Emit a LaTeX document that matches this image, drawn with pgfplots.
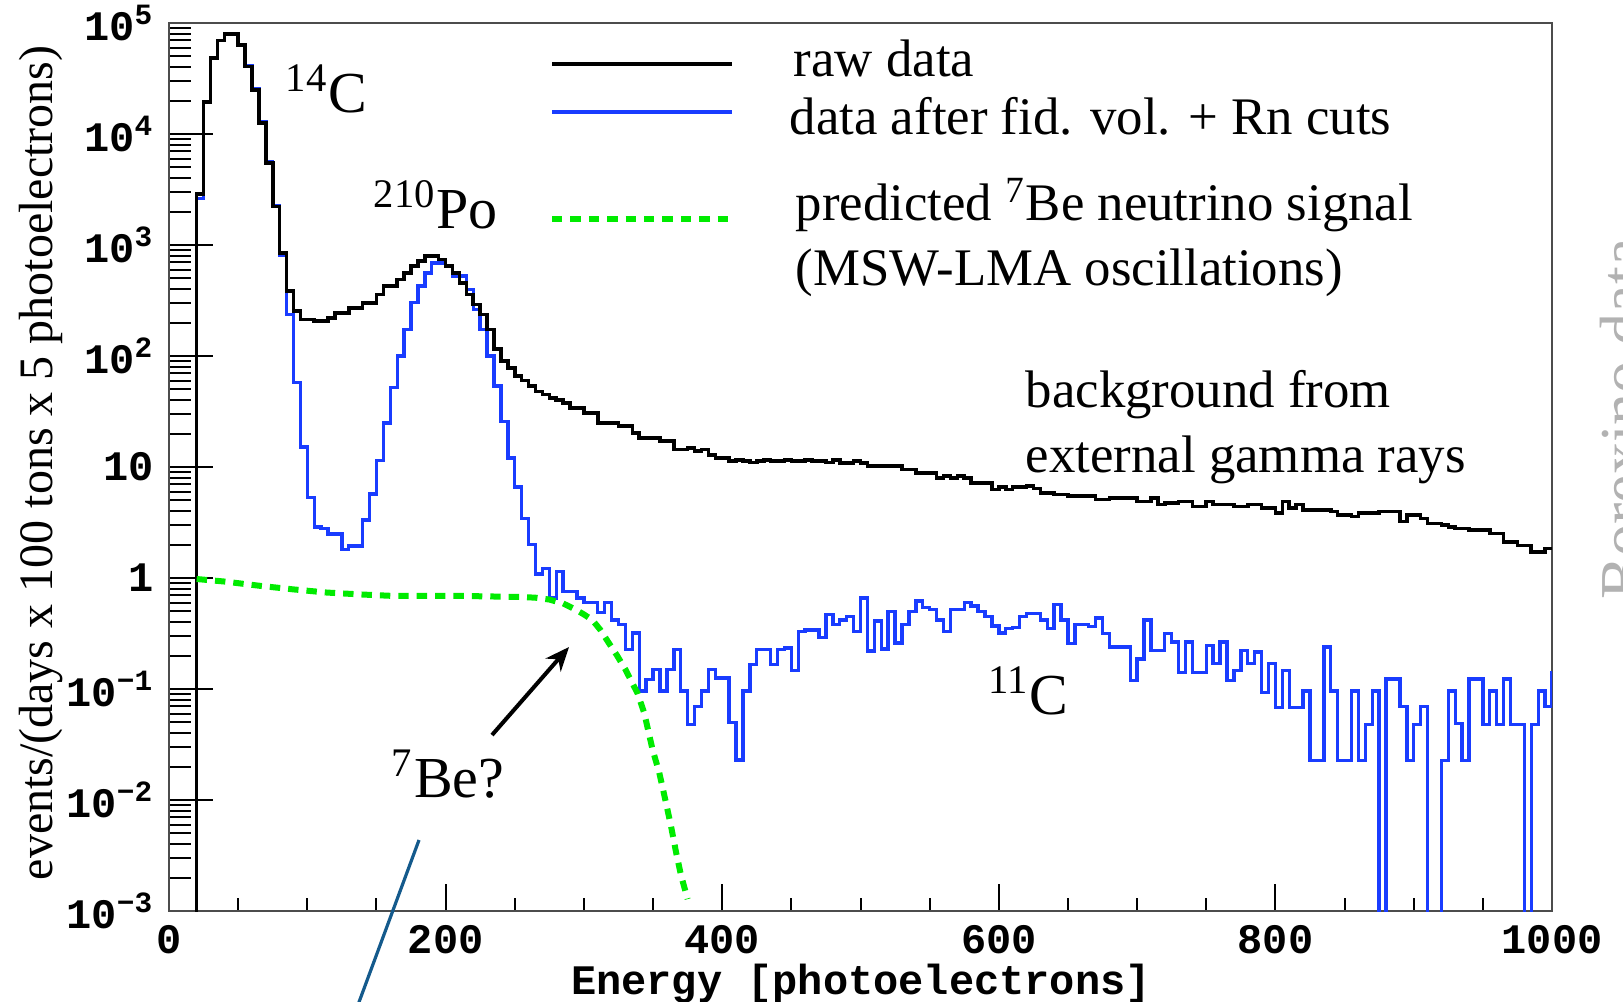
\documentclass[border=0pt]{standalone}
\usepackage{fontspec}
\setmainfont{Liberation Serif}
\newfontfamily\monof{Liberation Mono}
\usepackage{pgfplots}
\pgfplotsset{compat=1.18}
\usetikzlibrary{arrows.meta}
\definecolor{cutblue}{RGB}{25,60,255}
\definecolor{begreen}{RGB}{0,235,0}
\definecolor{strayblue}{RGB}{20,90,140}
\definecolor{wmgray}{RGB}{178,178,178}
\begin{document}
\begin{tikzpicture}
\useasboundingbox (0pt,0pt) rectangle (405.75pt,250.25pt);
\begin{axis}[
  at={(42.25pt,22.5pt)}, anchor=south west, scale only axis,
  width=345.75pt, height=222pt,
  xmin=0, xmax=1000, ymode=log, ymin=1e-3, ymax=1e5,
  axis line style={black!70, line width=0.6pt},
  tick align=inside, tick pos=left,
  tick style={black, line width=0.5pt},
  major tick length=11pt, minor tick length=5.5pt,
  every major x tick/.append style={/pgfplots/major tick length=6.75pt},
  every minor x tick/.append style={/pgfplots/minor tick length=3.25pt},
  xtick={0,200,400,600,800,1000}, minor x tick num=3,
  ytick={1e-3,1e-2,1e-1,1,10,100,1000,1e4,1e5},
  minor ytick={2e-3,3e-3,4e-3,5e-3,6e-3,7e-3,8e-3,9e-3,
    2e-2,3e-2,4e-2,5e-2,6e-2,7e-2,8e-2,9e-2,
    0.2,0.3,0.4,0.5,0.6,0.7,0.8,0.9,
    2,3,4,5,6,7,8,9,
    20,30,40,50,60,70,80,90,
    200,300,400,500,600,700,800,900,
    2000,3000,4000,5000,6000,7000,8000,9000,
    20000,30000,40000,50000,60000,70000,80000,90000},
  yticklabels={10\textsuperscript{−3},10\textsuperscript{−2},10\textsuperscript{−1},1,10,10\textsuperscript{2},10\textsuperscript{3},10\textsuperscript{4},10\textsuperscript{5}},
  xticklabels={0,200,400,600,800,1000},
  yticklabel style={font=\monof\bfseries\fontsize{10.5}{10.5}\selectfont, anchor=east, inner sep=0pt, xshift=-3.5pt},
  xticklabel style={font=\monof\bfseries\fontsize{10.5}{10.5}\selectfont, anchor=north, inner sep=0pt, yshift=-3.4pt},
]
% data after cuts (blue)
\addplot[const plot, cutblue, line width=0.85pt] coordinates {
(20,1e-5)(20,2640)(25,19400)(30,48300)(35,69600)(40,79400)(45,80000)(50,63700)(55,41500)(60,25800)(65,13000)(70,5600)(75,2260)(80,800)(85,237)(90,57.5)(95,15.1)(100,5.3)(105,2.88)(110,2.78)(115,2.5)(120,2.5)(125,1.81)(130,1.94)(135,1.94)(140,3.33)(145,5.7)(150,11.5)(155,25)(160,52)(165,100)(170,174)(175,302)(180,427)(185,562)(190,690)(195,690)(200,645)(205,525)(210,525)(215,398)(220,263)(225,174)(230,100)(235,53.7)(240,25.8)(245,12.1)(250,6.6)(255,3.45)(260,2.01)(265,1.09)(270,1.22)(275,0.66)(280,1.15)(285,0.76)(290,0.76)(295,0.66)(300,0.6)(305,0.6)(310,0.49)(315,0.6)(320,0.42)(325,0.38)(330,0.227)(335,0.32)(340,0.096)(345,0.122)(350,0.15)(355,0.096)(360,0.15)(365,0.227)(370,0.096)(375,0.048)(380,0.07)(385,0.096)(390,0.15)(395,0.126)(400,0.126)(405,0.05)(410,0.023)(415,0.096)(420,0.166)(425,0.227)(430,0.227)(435,0.166)(440,0.227)(445,0.235)(450,0.146)(455,0.33)(460,0.34)(465,0.34)(470,0.29)(475,0.47)(480,0.38)(485,0.42)(490,0.45)(495,0.33)(500,0.66)(505,0.22)(510,0.41)(515,0.23)(520,0.5)(525,0.26)(530,0.38)(535,0.5)(540,0.62)(545,0.54)(550,0.52)(555,0.42)(560,0.33)(565,0.52)(570,0.52)(575,0.6)(580,0.56)(585,0.5)(590,0.45)(595,0.37)(600,0.32)(605,0.35)(610,0.36)(615,0.45)(620,0.48)(625,0.48)(630,0.42)(635,0.35)(640,0.58)(645,0.42)(650,0.257)(655,0.38)(660,0.38)(665,0.366)(670,0.435)(675,0.317)(680,0.239)(685,0.239)(690,0.239)(695,0.119)(700,0.187)(705,0.42)(710,0.223)(715,0.223)(720,0.317)(725,0.266)(730,0.141)(735,0.266)(740,0.141)(745,0.141)(750,0.248)(755,0.169)(760,0.266)(765,0.119)(770,0.146)(775,0.223)(780,0.169)(785,0.215)(790,0.093)(795,0.169)(800,0.068)(805,0.146)(810,0.068)(815,0.068)(820,0.096)(825,0.0228)(830,0.0228)(835,0.239)(840,0.096)(845,0.0228)(850,0.0228)(855,0.096)(860,0.0228)(865,0.048)(870,0.096)(875,1e-5)(880,0.123)(885,0.123)(890,0.07)(895,0.0228)(900,0.048)(905,0.07)(910,1e-5)(915,1e-5)(920,0.0228)(925,0.096)(930,0.049)(935,0.0228)(940,0.123)(945,0.123)(950,0.048)(955,0.096)(960,0.048)(965,0.123)(970,0.048)(975,0.048)(980,1e-5)(985,0.048)(990,0.096)(995,0.07)(1000,0.146)
};
% raw data (black)
\addplot[const plot, black, line width=0.9pt] coordinates {
(20,1e-5)(20,2900)(25,19400)(30,48300)(35,69600)(40,79400)(45,80000)(50,63700)(55,40600)(60,25000)(65,12600)(70,5480)(75,2230)(80,851)(85,385)(90,254)(95,214)(100,214)(105,206)(110,206)(115,221)(120,245)(125,245)(130,272)(135,272)(140,302)(145,302)(150,359)(155,427)(160,427)(165,490)(170,562)(175,645)(180,716)(185,794)(190,794)(195,740)(200,645)(205,560)(210,457)(215,359)(220,292)(225,237)(230,174)(235,115)(240,90)(245,78)(250,66)(255,60)(260,54)(265,48)(270,45)(275,42)(280,40)(285,37.8)(290,34)(295,34)(300,30.7)(305,30.7)(310,24.9)(315,24.9)(320,24.9)(325,23.3)(330,23.3)(335,20.3)(340,18.3)(345,18.3)(350,18.3)(355,17.1)(360,17.1)(365,14.4)(370,14.4)(375,14.8)(380,14.0)(385,14.4)(390,12.9)(395,12.1)(400,12.1)(405,11.3)(410,11.6)(415,11.3)(420,11.0)(425,11.3)(430,11.6)(435,11.3)(440,11.3)(445,11.6)(450,11.3)(455,11.3)(460,11.6)(465,11.3)(470,11.3)(475,11.0)(480,11.6)(485,10.9)(490,10.9)(495,11.3)(500,10.9)(505,10.2)(510,10.2)(515,10.2)(520,10.2)(525,10.2)(530,9.5)(535,9.5)(540,8.85)(545,8.85)(550,8.85)(555,8.0)(560,8.3)(565,8.0)(570,8.3)(575,8.0)(580,7.2)(585,7.2)(590,7.2)(595,6.3)(600,6.6)(605,6.3)(610,6.6)(615,6.6)(620,6.75)(625,6.4)(630,5.86)(635,5.86)(640,5.65)(645,5.65)(650,5.46)(655,5.46)(660,5.46)(665,5.46)(670,5.09)(675,5.09)(680,5.27)(685,5.27)(690,5.27)(695,5.27)(700,4.91)(705,4.91)(710,5.27)(715,4.58)(720,4.74)(725,4.74)(730,4.91)(735,4.91)(740,4.42)(745,4.42)(750,4.91)(755,4.58)(760,4.58)(765,4.58)(770,4.42)(775,4.42)(780,4.58)(785,4.58)(790,4.27)(795,4.27)(800,3.84)(805,4.91)(810,4.27)(815,4.58)(820,4.12)(825,4.12)(830,4.12)(835,4.12)(840,3.98)(845,3.71)(850,3.71)(855,3.58)(860,3.84)(865,3.84)(870,3.84)(875,3.98)(880,3.98)(885,3.98)(890,3.22)(895,3.71)(900,3.71)(905,3.45)(910,3.11)(915,3.11)(920,3.0)(925,2.9)(930,2.8)(935,2.8)(940,2.7)(945,2.7)(950,2.7)(955,2.52)(960,2.52)(965,2.11)(970,2.11)(975,1.97)(980,1.97)(985,1.71)(990,1.71)(995,1.84)(1000,1.84)
};
% predicted 7Be signal (green dashed)
\addplot[begreen, line width=1.5pt, dash pattern=on 2.6pt off 2pt] coordinates {
(20,0.98)(40,0.93)(66,0.85)(90,0.79)(114,0.74)(140,0.71)(162,0.69)(210,0.69)(240,0.68)(255,0.675)(265,0.665)(275,0.64)(285,0.59)(294,0.52)(300,0.47)(306,0.42)(312,0.34)(318,0.26)(324,0.2)(330,0.15)(338.7,0.092)(343.6,0.061)(349.6,0.0286)(354.5,0.0176)(359.3,0.0095)(363,0.0058)(366.6,0.0034)(370.2,0.0021)(375,0.00128)
};
\end{axis}
\begin{scope}[x=0.25pt,y=0.25pt]
% legend
\draw[black, line width=0.9pt] (552,937) -- (732,937);
\draw[cutblue, line width=0.9pt] (552,889) -- (732,889);
\draw[begreen, line width=1.5pt, dash pattern=on 2.6pt off 2pt] (552,782) -- (732,782);
\begin{scope}[every node/.style={inner sep=0pt, font=\fontsize{13.2}{15}\selectfont}]
\node[anchor=base west] at (793,925) {raw data};
\node[anchor=base west] at (789,867) {data after fid. vol. + Rn cuts};
\node[anchor=base west] at (795,781) {predicted \textsuperscript{7}Be neutrino signal};
\node[anchor=base west] at (795,716) {(MSW-LMA oscillations)};
\node[anchor=base west] at (1025,594) {background from};
\node[anchor=base west] at (1025,529) {external gamma rays};
\end{scope}
\begin{scope}[every node/.style={inner sep=0pt, font=\fontsize{14.5}{16}\selectfont}]
\node[anchor=base west] at (285,889) {\textsuperscript{14}C};
\node[anchor=base west] at (373,773) {\textsuperscript{210}Po};
\node[anchor=base west] at (391,204) {\textsuperscript{7}Be?};
\node[anchor=base west] at (988,287) {\textsuperscript{11}C};
\end{scope}
\draw[black, line width=1pt, -{Stealth[length=6pt,width=5pt]}] (492,266) -- (569,354);
\draw[strayblue, line width=0.8pt] (419,161) -- (352,-20);
% axis titles
\node[rotate=90, inner sep=0pt, font=\fontsize{12}{14}\selectfont] at (41,538) {events/(days x 100 tons x 5 photoelectrons)};
\node[inner sep=0pt, font=\monof\bfseries\fontsize{10.5}{12}\selectfont] at (861,17) {Energy [photoelectrons]};
% faded side text
\node[rotate=90, anchor=base west, inner sep=0pt, text=wmgray, font=\fontsize{16}{18}\selectfont] at (1644,401) {Borexino data};
\end{scope}
\end{tikzpicture}
\end{document}
